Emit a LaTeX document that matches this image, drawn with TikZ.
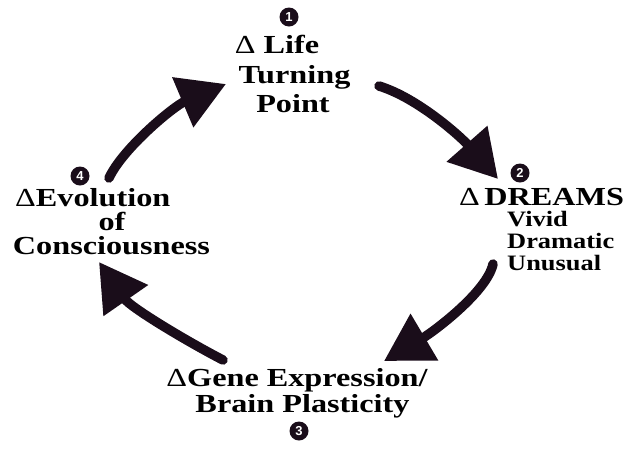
\documentclass[tikz,border=0pt]{standalone}
\usepackage{fontspec}
\setmainfont{Liberation Serif}
\newfontfamily\lblfont[FakeStretch=1.24]{Liberation Serif}
\newfontfamily\subfont[FakeStretch=1.2]{Liberation Serif}
\newfontfamily\badgefont{Liberation Sans}
\usetikzlibrary{arrows.meta}
\definecolor{ink}{HTML}{1A0D1A}
\newcommand{\dl}{{\mdseries Δ}}
\begin{document}
\begin{tikzpicture}[x=1pt,y=-1pt,
  big/.style={font=\lblfont\bfseries\fontsize{26}{26}\selectfont, inner sep=0pt, anchor=base},
  small/.style={font=\subfont\bfseries\fontsize{22}{22}\selectfont, inner sep=0pt, anchor=base west},
  badge/.style={circle, fill=ink, text=white, minimum size=19pt, inner sep=0pt,
    font=\badgefont\bfseries\fontsize{13}{13}\selectfont},
  flow/.style={draw=ink, line width=9.5pt, line cap=round,
    -{Triangle[width=52pt,length=47pt]}, fill=none}
]
\useasboundingbox (0,0) rectangle (628,448);

% stage 1
\node[badge] (b1) at (289,17) {1};
\node[big] (s1a) at (277,53) {\dl\ Life};
\node[big] (s1b) at (294.5,83) {Turning};
\node[big] (s1c) at (293,112) {Point};

% stage 2
\node[badge] (b2) at (520,173) {2};
\node[big, anchor=base west] (s2a) at (459,205) {\dl\,DREAMS};
\node[small] (s2b) at (507,226) {Vivid};
\node[small] (s2c) at (507,248) {Dramatic};
\node[small] (s2d) at (507,270) {Unusual};

% stage 3
\node[badge] (b3) at (299,431) {3};
\node[big] (s3a) at (297,386) {\dl Gene Expression/};
\node[big] (s3b) at (302.5,412) {Brain Plasticity};

% stage 4
\node[badge] (b4) at (80,176) {4};
\node[big, anchor=base west] (s4a) at (15,206) {\dl Evolution};
\node[big] (s4b) at (112,230) {of};
\node[big] (s4c) at (111.5,254) {Consciousness};

% cycle arrows
\coordinate (a1s) at (379,86);  \coordinate (a1e) at (498,179);
\coordinate (a2s) at (493,264); \coordinate (a2e) at (384,361);
\coordinate (a3s) at (223,360); \coordinate (a3e) at (99,262);
\coordinate (a4s) at (109,178); \coordinate (a4e) at (226,84);

\draw[flow] (a1s) .. controls (418,98) and (461,137) .. (a1e);
\draw[flow] (a2s) .. controls (487,292) and (433,332) .. (a2e);
\draw[flow] (a3s) .. controls (190,343) and (131,308) .. (a3e);
\draw[flow] (a4s) .. controls (123,148) and (174,106) .. (a4e);
\end{tikzpicture}
\end{document}
